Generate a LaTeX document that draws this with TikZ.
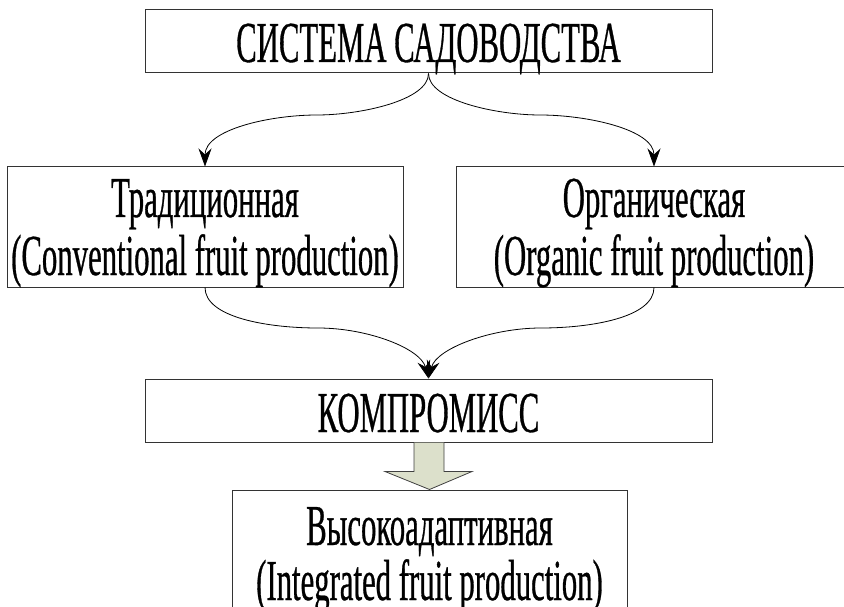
\documentclass[tikz,border=0pt]{standalone}
\usepackage{fontspec}
\setmainfont[FakeStretch=0.53,FakeBold=0.5]{Liberation Serif}
\usetikzlibrary{arrows.meta,calc}
\definecolor{arrowfill}{RGB}{220,224,203}
\begin{document}
\begin{tikzpicture}[x=1pt,y=-1pt,
  box/.style={draw=black!80, line width=1pt, inner sep=0pt},
  txt/.style={anchor=base, inner sep=0pt, font=\fontsize{58}{60}\selectfont},
  con/.style={black, line width=0.8pt, -{Stealth[length=18pt,width=13pt,inset=6pt]}}]
\useasboundingbox (0,0) rectangle (844,607);
\clip (0,0) rectangle (844,607);
% boxes
\node[box, minimum width=567pt, minimum height=63pt] (top) at (428.5,41.5) {};
\node[box, minimum width=396pt, minimum height=120pt] (left) at (205,227) {};
\node[box, minimum width=396pt, minimum height=120pt] (right) at (654,227) {};
\node[box, minimum width=567pt, minimum height=63pt] (komp) at (428.5,410.5) {};
\node[box, minimum width=395pt, minimum height=160pt] (bot) at (429.5,570) {};
% texts
\node[txt] (ttop) at (428.5,62) {СИСТЕМА САДОВОДСТВА};
\node[txt] (tl1) at (205,217) {Традиционная};
\node[txt] (tl2) at (205,275) {(Conventional fruit production)};
\node[txt] (tr1) at (654,217) {Органическая};
\node[txt] (tr2) at (654,275) {(Organic fruit production)};
\node[txt] (tk) at (428.5,432) {КОМПРОМИСС};
\node[txt] (tb1) at (429.5,545) {Высокоадаптивная};
\node[txt] (tb2) at (429.5,600) {(Integrated fruit production)};
% waypoints
\coordinate (tl) at (317,115);
\coordinate (tr) at (540,115);
\coordinate (bl) at (318,328);
\coordinate (br) at (541,328);
% connectors
\draw[con] (top.south) .. controls +(0,27) and +(43,0) .. (tl)
  .. controls +(-47,0) and +(0,-37) .. (left.north);
\draw[con] (top.south) .. controls +(0,27) and +(-43,0) .. (tr)
  .. controls +(47,0) and +(0,-37) .. (right.north);
\draw[con] (left.south) .. controls +(0,30) and +(-50,0) .. (bl)
  .. controls +(50,0) and +(-8,-30) .. (komp.north);
\draw[con] (right.south) .. controls +(0,30) and +(50,0) .. (br)
  .. controls +(-50,0) and +(8,-30) .. (komp.north);
% fat arrow
\draw[fill=arrowfill, draw=black!75, line width=0.8pt, line join=miter]
  ($(komp.south)+(-14.5,0)$) -- ++(0,29) -- ++(-29,0) -- (bot.north)
  -- ($(komp.south)+(43.5,29)$) -- ++(-28,0) -- ($(komp.south)+(15.5,0)$);
\end{tikzpicture}
\end{document}
